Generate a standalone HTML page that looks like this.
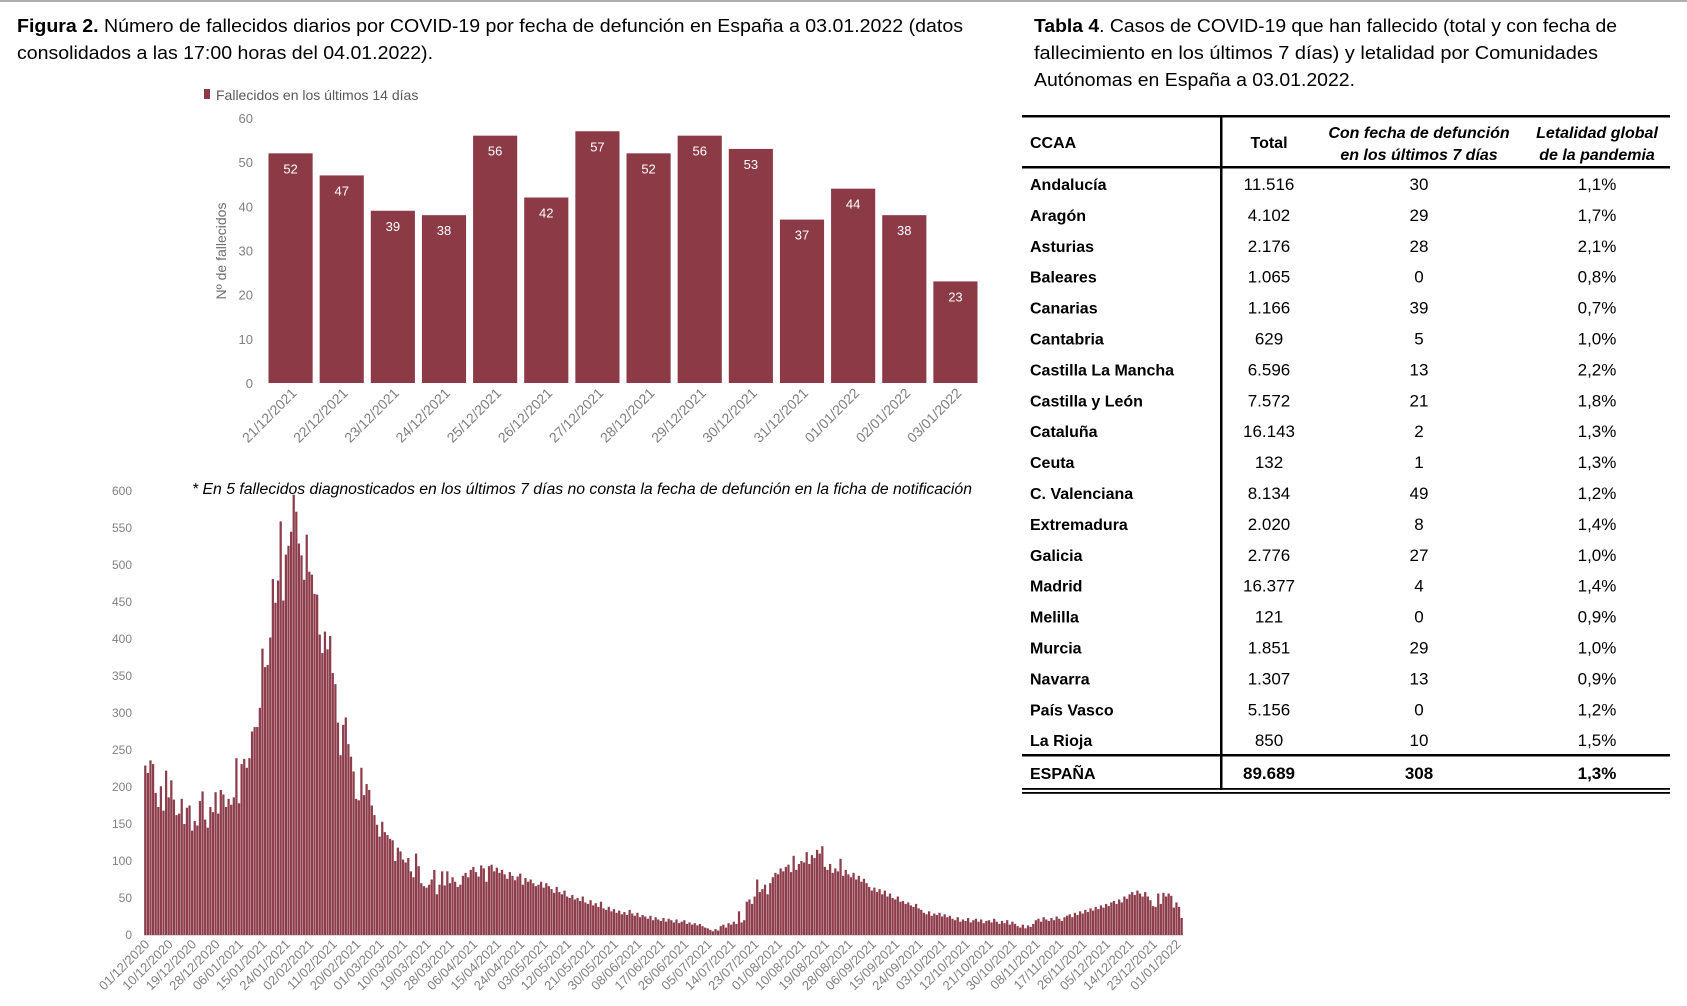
<!DOCTYPE html>
<html><head><meta charset="utf-8">
<style>
html,body{margin:0;padding:0;background:#fff;}
svg{display:block;font-family:"Liberation Sans",sans-serif;}
</style></head>
<body>
<svg id="page" width="1687" height="1006" viewBox="0 0 1687 1006" xmlns="http://www.w3.org/2000/svg">
<rect x="0" y="0" width="1687" height="2" fill="#b0b0b0"/>
<g font-size="18" fill="#000">
<text x="17" y="32" textLength="946" lengthAdjust="spacingAndGlyphs"><tspan font-weight="bold">Figura 2.</tspan> Número de fallecidos diarios por COVID-19 por fecha de defunción en España a 03.01.2022 (datos</text>
<text x="17" y="59" textLength="416" lengthAdjust="spacingAndGlyphs">consolidados a las 17:00 horas del 04.01.2022).</text>
</g>
<g font-size="18" fill="#000">
<text x="1034" y="32" textLength="583" lengthAdjust="spacingAndGlyphs"><tspan font-weight="bold">Tabla 4</tspan>. Casos de COVID-19 que han fallecido (total y con fecha de</text>
<text x="1034" y="59" textLength="564" lengthAdjust="spacingAndGlyphs">fallecimiento en los últimos 7 días) y letalidad por Comunidades</text>
<text x="1034" y="86" textLength="321" lengthAdjust="spacingAndGlyphs">Autónomas en España a 03.01.2022.</text>
</g>
<g id="top-chart"></g>
<g id="bottom-chart"></g>
<g id="table"></g>
</svg>
<script>
const NS="http://www.w3.org/2000/svg";
// ---- top chart data ----
const topCategories=["21/12/2021","22/12/2021","23/12/2021","24/12/2021","25/12/2021","26/12/2021","27/12/2021","28/12/2021","29/12/2021","30/12/2021","31/12/2021","01/01/2022","02/01/2022","03/01/2022"];
const topValues=[52,47,39,38,56,42,57,52,56,53,37,44,38,23];
const topTicks=[0,10,20,30,40,50,60];
// ---- bottom chart data ----
const dailyDeaths=[229,219,236,231,192,173,201,168,222,186,209,183,162,164,184,150,172,175,141,154,148,181,194,156,145,173,166,193,164,196,190,173,184,176,186,239,178,231,238,226,239,275,281,281,307,387,362,365,402,481,449,479,559,452,514,526,545,595,572,529,513,480,541,491,487,461,460,406,381,410,386,404,354,339,287,243,284,294,258,241,221,184,182,226,189,204,196,175,162,149,133,153,139,135,130,
128,100,118,113,102,98,104,86,78,110,93,70,66,64,68,75,88,55,68,86,67,86,70,78,72,65,68,80,84,78,
88,92,85,79,94,90,72,93,95,86,91,84,88,
82,76,85,80,74,79,83,68,77,72,75,70,66,
68,72,64,70,66,62,57,65,58,55,60,52,50,
54,48,50,46,52,44,42,47,40,43,38,45,36,34,
38,32,35,30,33,28,31,27,34,29,26,30,24,27,
25,22,26,20,24,21,19,23,18,22,20,17,21,16,18,20,15,17,14,16,13,15,12,10,9,7,
5,8,6,12,14,10,16,14,18,15,32,17,20,
45,48,42,52,75,58,62,68,55,70,
78,84,82,90,86,92,95,85,107,88,96,
100,98,112,96,108,104,115,110,120,
92,88,96,84,90,86,103,80,88,82,
78,84,75,80,72,76,70,
65,60,64,58,62,55,60,52,56,50,
48,52,45,46,42,44,40,38,42,36,34,
30,28,32,26,29,27,30,25,28,24,26,
22,20,24,18,21,19,23,17,20,22,18,21,16,19,20,17,22,18,15,19,16,20,14,18,15,
12,10,14,9,13,11,15,
20,22,18,24,21,19,23,20,25,22,19,24,
26,28,24,30,27,32,29,34,31,36,33,38,35,40,37,42,39,44,
46,42,48,44,52,49,55,58,54,60,56,52,58,
52,47,39,38,56,42,57,52,56,53,37,44,38,23];
const dailyTicks=[0,50,100,150,200,250,300,350,400,450,500,550,600];
const dateLabels=["01/12/2020","10/12/2020","19/12/2020","28/12/2020","06/01/2021","15/01/2021","24/01/2021","02/02/2021","11/02/2021","20/02/2021","01/03/2021","10/03/2021","19/03/2021","28/03/2021","06/04/2021","15/04/2021","24/04/2021","03/05/2021","12/05/2021","21/05/2021","30/05/2021","08/06/2021","17/06/2021","26/06/2021","05/07/2021","14/07/2021","23/07/2021","01/08/2021","10/08/2021","19/08/2021","28/08/2021","06/09/2021","15/09/2021","24/09/2021","03/10/2021","12/10/2021","21/10/2021","30/10/2021","08/11/2021","17/11/2021","26/11/2021","05/12/2021","14/12/2021","23/12/2021","01/01/2022"];
const labelStep=9;
// ---- table data ----
const regions=["Andalucía","Aragón","Asturias","Baleares","Canarias","Cantabria","Castilla La Mancha","Castilla y León","Cataluña","Ceuta","C. Valenciana","Extremadura","Galicia","Madrid","Melilla","Murcia","Navarra","País Vasco","La Rioja"];
const totals=["11.516","4.102","2.176","1.065","1.166","629","6.596","7.572","16.143","132","8.134","2.020","2.776","16.377","121","1.851","1.307","5.156","850"];
const last7=["30","29","28","0","39","5","13","21","2","1","49","8","27","4","0","29","13","0","10"];
const lethality=["1,1%","1,7%","2,1%","0,8%","0,7%","1,0%","2,2%","1,8%","1,3%","1,3%","1,2%","1,4%","1,0%","1,4%","0,9%","1,0%","0,9%","1,2%","1,5%"];

function el(tag,attrs,parent,txt){const e=document.createElementNS(NS,tag);for(const k in attrs)e.setAttribute(k,attrs[k]);if(txt!==undefined)e.textContent=txt;parent.appendChild(e);return e;}

// ===== TOP CHART =====
(function(){
const g=document.getElementById('top-chart');
const L=265,R=981,Y0=383,YT=118,maxV=60;
const y=v=>Y0-(v/maxV)*(Y0-YT);
const slot=(R-L)/topValues.length, bw=slot-7;
const x=i=>L+i*slot+3.5;
const lg=el('rect',{x:204,y:89,width:6,height:10,fill:'#8b3a46'},g);


const lt=el('text',{x:216,y:100,'font-size':14,fill:'#595959'},g,'Fallecidos en los últimos 14 días');


topTicks.forEach(t=>{const tx=el('text',{x:253,y:y(t)+5,'font-size':13,fill:'#7f7f7f','text-anchor':'end'},g,String(t));

});
const yt=el('text',{x:0,y:0,'font-size':14,fill:'#6f6f6f','text-anchor':'middle',transform:'translate(226,251) rotate(-90)'},g,'Nº de fallecidos');


topValues.forEach((v,i)=>{
 const b=el('rect',{x:x(i),y:y(v),width:bw,height:Y0-y(v),fill:'#8b3a46'},g);
 
 
 const vl=el('text',{x:x(i)+bw/2,y:y(v)+20,'font-size':13,fill:'#fff','text-anchor':'middle'},g,String(v));
 
 
 const cx=x(i)+bw/2+7;
 const xl=el('text',{x:cx,y:394,'font-size':14,fill:'#7f7f7f','text-anchor':'end',transform:`rotate(-45 ${cx} 394)`},g,topCategories[i]);
 
 
});
})();

// ===== BOTTOM CHART =====
(function(){
const g=document.getElementById('bottom-chart');
const L=144,R=1183,Y0=935,YT=491,maxV=600;
const y=v=>Y0-(v/maxV)*(Y0-YT);
const n=dailyDeaths.length, slot=(R-L)/n;
const x=i=>L+i*slot;
dailyTicks.forEach(t=>{const tx=el('text',{x:132,y:y(t)+4,'font-size':12,fill:'#808080','text-anchor':'end'},g,String(t));

});
el('rect',{x:L,y:Y0,width:R-L,height:1,fill:'#d9d9d9'},g);
dailyDeaths.forEach((v,i)=>{
 const b=el('rect',{x:x(i)+0.15,y:y(v),width:slot-0.35,height:Y0-y(v),fill:'#8d3d4b'},g);
 
 
});
dateLabels.forEach((d,k)=>{
 const cx=x(k*labelStep)+slot/2+5, cy=945;
 const t=el('text',{x:cx,y:cy,'font-size':13,fill:'#808080','text-anchor':'end',transform:`rotate(-45 ${cx} ${cy})`},g,d);
 
 
});
const note=el('text',{x:192,y:494,'font-size':15.5,'font-style':'italic',fill:'#000',textLength:780,lengthAdjust:'spacingAndGlyphs'},g,'* En 5 fallecidos diagnosticados en los últimos 7 días no consta la fecha de defunción en la ficha de notificación');


})();

// ===== TABLE =====
(function(){
const g=document.getElementById('table');
const X0=1022,X1=1670,CN=1030,CT=1269,C7=1419,CL=1597;
el('rect',{x:X0,y:115,width:X1-X0,height:2.5,fill:'#000'},g);
el('rect',{x:X0,y:166,width:X1-X0,height:2.5,fill:'#000'},g);
el('rect',{x:1220,y:116,width:2.5,height:674,fill:'#000'},g);
el('rect',{x:X0,y:754,width:X1-X0,height:2.5,fill:'#000'},g);
el('rect',{x:X0,y:788,width:X1-X0,height:1.8,fill:'#000'},g);
el('rect',{x:X0,y:792,width:X1-X0,height:1.8,fill:'#000'},g);
const hs={'font-size':16,'font-weight':'bold',fill:'#000'};
const h1=el('text',Object.assign({x:CN,y:148},hs),g,'CCAA');


const h2=el('text',Object.assign({x:CT,y:148,'text-anchor':'middle'},hs),g,'Total');


const hi=Object.assign({'font-style':'italic','text-anchor':'middle'},hs);
const h3=el('text',Object.assign({x:C7,y:138},hi),g,'Con fecha de defunción');


el('text',Object.assign({x:C7,y:160},hi),g,'en los últimos 7 días');
const h4=el('text',Object.assign({x:CL,y:138},hi),g,'Letalidad global');


el('text',Object.assign({x:CL,y:160},hi),g,'de la pandemia');
regions.forEach((r,i)=>{
 const cy=184+i*30.9+6;
 const a=el('text',{x:CN,y:cy,'font-size':16,'font-weight':'bold',fill:'#000'},g,r);
 
 
 const b=el('text',{x:CT,y:cy,'font-size':17,fill:'#000','text-anchor':'middle'},g,totals[i]);
 
 
 const c=el('text',{x:C7,y:cy,'font-size':17,fill:'#000','text-anchor':'middle'},g,last7[i]);
 
 
 const d=el('text',{x:CL,y:cy,'font-size':17,fill:'#000','text-anchor':'middle'},g,lethality[i]);
 
 
});
const ty=779;
const t1=el('text',{x:CN,y:ty,'font-size':16,'font-weight':'bold'},g,'ESPAÑA');


const t2=el('text',{x:CT,y:ty,'font-size':17,'font-weight':'bold','text-anchor':'middle'},g,'89.689');


const t3=el('text',{x:C7,y:ty,'font-size':17,'font-weight':'bold','text-anchor':'middle'},g,'308');


const t4=el('text',{x:CL,y:ty,'font-size':17,'font-weight':'bold','text-anchor':'middle'},g,'1,3%');


})();
</script>
</body></html>
